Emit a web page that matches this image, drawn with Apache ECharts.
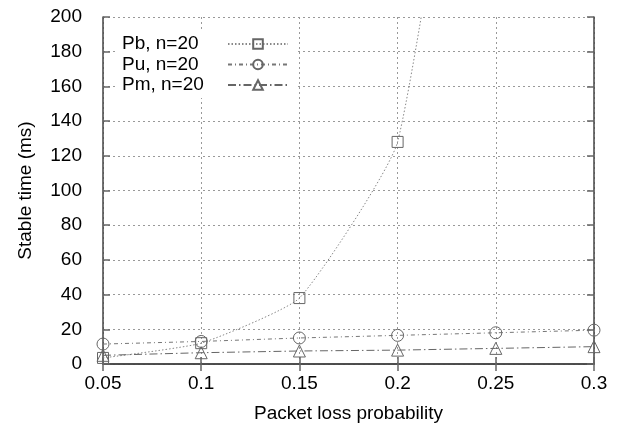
<!DOCTYPE html>
<html>
<head>
<meta charset="utf-8">
<script src="https://cdn.jsdelivr.net/npm/echarts@6/dist/echarts.min.js"></script>
<style>html,body{margin:0;padding:0;background:#fff}#c{width:620px;height:428px}</style>
</head>
<body>
<div id="c"></div>
<script>
var categories = ['0.05', '0.1', '0.15', '0.2', '0.25', '0.3'];
var pbValues = [3.5, 12, 38, 128, 480, null];
var puValues = [11.5, 13, 15, 16.5, 18, 19.5];
var pmValues = [5, 6.5, 7.5, 8, 9, 10];
var yTicks = [0, 20, 40, 60, 80, 100, 120, 140, 160, 180, 200];
var seriesNames = ['Pb, n=20', 'Pu, n=20', 'Pm, n=20'];

var FONT = '"Liberation Sans", Arial, Helvetica, sans-serif';
var chart = echarts.init(document.getElementById('c'), null, {renderer: 'canvas'});

function mk(name, data, symbol, size, dash, lineColor, smooth) {
  return {
    name: name,
    type: 'line',
    data: data,
    symbol: symbol,
    symbolSize: size,
    smooth: smooth,
    clip: true,
    xAxisIndex: 0, yAxisIndex: 0,
    lineStyle: {color: lineColor, width: 1, type: dash},
    itemStyle: {color: 'rgba(255,255,255,0)', opacity: 1, borderColor: '#666', borderWidth: 1},
    emphasis: {disabled: true},
    z: 3
  };
}

var option = {
  animation: false,
  backgroundColor: '#fff',
  grid: {left: 103, right: 26, top: 17, bottom: 62, containLabel: false},
  legend: {
    data: seriesNames,
    orient: 'vertical',
    align: 'right',
    left: 118,
    top: 32,
    padding: [2, 8, 3, 4],
    itemGap: 0.5,
    itemWidth: 60,
    itemHeight: 12,
    backgroundColor: '#fff',
    formatter: function (n) { return '{t|' + n + '}'; },
    textStyle: {
      fontFamily: FONT, fontSize: 19, color: '#000', lineHeight: 20,
      rich: {t: {fontFamily: FONT, fontSize: 19, color: '#000', width: 101, align: 'left', lineHeight: 20}}
    },
    selectedMode: false,
    z: 10
  },
  xAxis: [{
    type: 'category',
    data: categories,
    boundaryGap: false,
    name: 'Packet loss probability',
    nameLocation: 'middle',
    nameGap: 40,
    nameTextStyle: {fontFamily: FONT, fontSize: 19, color: '#000'},
    axisLine: {show: true, lineStyle: {color: '#444', width: 1.5}},
    axisTick: {show: true, inside: true, length: 7, lineStyle: {color: '#666', width: 1.5}},
    axisLabel: {fontFamily: FONT, fontSize: 19, color: '#000', margin: 10},
    splitLine: {show: true, lineStyle: {color: '#999', width: 1, type: [2, 3]}}
  }, {
    type: 'category',
    data: categories,
    boundaryGap: false,
    position: 'top',
    axisLine: {show: true, lineStyle: {color: '#444', width: 1.5}},
    axisTick: {show: true, inside: true, length: 7, lineStyle: {color: '#666', width: 1.5}},
    axisLabel: {show: false},
    splitLine: {show: false}
  }],
  yAxis: [{
    type: 'value',
    min: 0, max: 200, interval: 20,
    name: 'Stable time (ms)',
    nameLocation: 'middle',
    nameGap: 68,
    nameTextStyle: {fontFamily: FONT, fontSize: 19, color: '#000'},
    axisLine: {show: true, lineStyle: {color: '#444', width: 1.5}},
    axisTick: {show: true, inside: true, length: 7, lineStyle: {color: '#666', width: 1.5}},
    axisLabel: {fontFamily: FONT, fontSize: 19, color: '#000', margin: 21,
      formatter: function (v) { return yTicks.indexOf(v) >= 0 ? String(v) : ''; }},
    splitLine: {show: true, lineStyle: {color: '#999', width: 1, type: [2, 3]}}
  }, {
    type: 'value',
    min: 0, max: 200, interval: 20,
    position: 'right',
    axisLine: {show: true, lineStyle: {color: '#444', width: 1.5}},
    axisTick: {show: true, inside: true, length: 7, lineStyle: {color: '#666', width: 1.5}},
    axisLabel: {show: false},
    splitLine: {show: false}
  }],
  series: [
    mk(seriesNames[0], pbValues, 'rect', 11, [1.5, 2], '#888', 0.15),
    mk(seriesNames[1], puValues, 'circle', 12, [4, 3, 1, 3], '#777', false),
    mk(seriesNames[2], pmValues, 'triangle', 12, [8, 3, 1.5, 3], '#666', false)
  ]
};
chart.setOption(option);
</script>
</body>
</html>
